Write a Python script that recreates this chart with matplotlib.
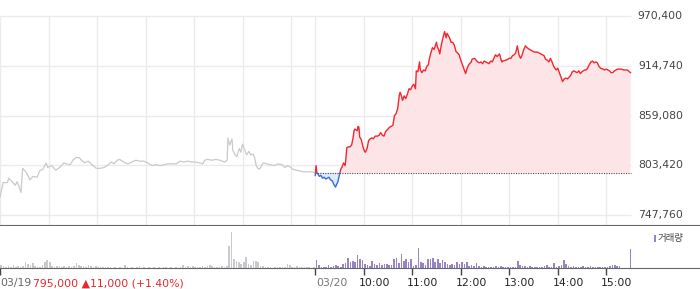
import numpy as np
import matplotlib
matplotlib.use("Agg")
import matplotlib.pyplot as plt
from matplotlib.patches import Rectangle

# session = 09:00-15:30 (390 min), two days side by side
DAY = 390
prev_close = 795000
y_ticks = [747760, 803420, 859080, 914740, 970400]
hour_labels = ["10:00", "11:00", "12:00", "13:00", "14:00", "15:00"]

# 03/19 price (minute from open, price)
t1 = [0, 4, 9, 11, 15, 19, 21, 23, 26, 28, 32, 35, 37, 41, 46, 49, 53, 57, 59, 64,
      69, 74, 79, 82, 87, 90, 94, 98, 101, 105, 109, 114, 119, 124, 129, 134, 138, 141, 145, 148,
      153, 158, 163, 168, 173, 178, 183, 188, 193, 198, 203, 208, 213, 218, 223, 227, 232, 237, 242, 247,
      251, 253, 257, 262, 267, 272, 278, 281, 282, 284, 287, 288, 291, 293, 296, 298, 300, 303, 305, 308,
      310, 313, 315, 317, 319, 321, 324, 326, 330, 334, 339, 344, 349, 352, 356, 360, 362, 366, 371, 376,
      381, 386, 389]
p1 = [768000, 784000, 784000, 789000, 785000, 781000, 785000, 781000, 773000, 800000, 796000, 791000, 787000, 791000, 790000, 797000, 799000, 806000, 801000, 803000,
      798000, 801000, 806000, 805000, 804000, 809000, 812000, 812000, 809000, 806000, 808000, 804000, 800000, 800000, 801000, 804000, 807000, 805000, 809000, 810000,
      807000, 805000, 807000, 809000, 808000, 808000, 806000, 803000, 804000, 803000, 804000, 805000, 805000, 805000, 808000, 807000, 808000, 807000, 807000, 806000,
      805000, 809000, 810000, 809000, 810000, 809000, 807000, 809000, 834000, 826000, 833000, 820000, 815000, 813000, 822000, 818000, 827000, 820000, 815000, 819000,
      815000, 816000, 812000, 803000, 800000, 799000, 804000, 806000, 805000, 804000, 803000, 805000, 804000, 801000, 803000, 801000, 799000, 798000, 797000, 796000,
      796000, 796000, 795000]

# 03/20 price (minute from open, price)
t2 = [0, 1, 2, 3, 5, 7, 9, 11, 13, 15, 17, 19, 21, 23, 25, 26, 28, 29, 31, 32,
      33, 35, 37, 38, 39, 41, 43, 44, 45, 47, 48, 49, 52, 53, 54, 55, 57, 59, 61, 62,
      64, 66, 68, 70, 72, 74, 77, 79, 81, 83, 85, 87, 89, 92, 94, 96, 98, 100, 102, 104,
      105, 107, 108, 110, 112, 114, 116, 118, 120, 122, 124, 125, 127, 129, 130, 132, 134, 136, 138, 140,
      141, 143, 145, 147, 150, 151, 153, 154, 156, 158, 160, 162, 163, 165, 167, 168, 170, 172, 174, 176,
      178, 180, 182, 184, 186, 188, 190, 193, 194, 197, 199, 201, 203, 205, 207, 209, 211, 213, 215, 217,
      219, 221, 223, 225, 228, 230, 231, 232, 236, 238, 240, 242, 244, 246, 248, 250, 252, 254, 256, 258,
      260, 262, 265, 267, 271, 275, 277, 279, 281, 283, 285, 287, 289, 291, 293, 295, 298, 300, 302, 304,
      306, 308, 310, 312, 314, 316, 318, 320, 322, 324, 326, 328, 330, 333, 335, 337, 339, 341, 343, 345,
      347, 349, 351, 353, 356, 358, 360, 362, 364, 366, 368, 370, 372, 374, 378, 382, 386, 390]
p2 = [792000, 803000, 795000, 794000, 791000, 792000, 789000, 790000, 788000, 789000, 790000, 787000, 786000, 782000, 779000, 781000, 785000, 789000, 797000, 800000,
      801000, 806000, 803000, 812000, 823000, 824000, 824000, 825000, 826000, 835000, 842000, 844000, 842000, 847000, 846000, 835000, 832000, 824000, 819000, 818000,
      822000, 831000, 833000, 834000, 833000, 836000, 836000, 837000, 840000, 837000, 836000, 841000, 843000, 846000, 847000, 848000, 859000, 861000, 867000, 882000,
      885000, 880000, 876000, 881000, 878000, 883000, 889000, 888000, 892000, 894000, 889000, 909000, 908000, 919000, 910000, 907000, 910000, 909000, 914000, 916000,
      922000, 929000, 935000, 933000, 941000, 936000, 932000, 928000, 938000, 946000, 953000, 946000, 951000, 948000, 944000, 941000, 941000, 938000, 931000, 929000,
      927000, 921000, 916000, 911000, 906000, 912000, 916000, 919000, 922000, 923000, 921000, 919000, 918000, 919000, 917000, 920000, 919000, 918000, 917000, 920000,
      919000, 923000, 927000, 925000, 928000, 921000, 919000, 920000, 921000, 922000, 923000, 923000, 926000, 927000, 929000, 937000, 927000, 923000, 927000, 933000,
      937000, 935000, 933000, 932000, 930000, 930000, 929000, 928000, 927000, 926000, 922000, 921000, 919000, 923000, 919000, 914000, 910000, 912000, 907000, 902000,
      897000, 900000, 901000, 900000, 902000, 904000, 908000, 909000, 908000, 907000, 909000, 906000, 908000, 910000, 910000, 912000, 916000, 919000, 920000, 918000,
      919000, 918000, 914000, 912000, 911000, 910000, 911000, 910000, 909000, 907000, 907000, 909000, 910000, 911000, 911000, 910000, 910000, 907000]

# volume, 3-minute buckets (relative units)
vol1 = [3, 2, 1, 2, 1, 3, 1, 2, 1, 2, 6, 4, 3, 5, 2, 1, 1, 3, 6, 8,
        6, 2, 1, 2, 2, 1, 2, 1, 2, 1, 2, 5, 3, 2, 2, 1, 3, 2, 1, 2,
        1, 1, 1, 1, 1, 1, 0, 1, 0, 1, 0, 3, 1, 0, 1, 0, 1, 2, 0, 1,
        0, 1, 0, 1, 0, 1, 0, 1, 1, 0, 1, 0, 1, 0, 1, 3, 1, 2, 1, 2,
        1, 1, 1, 2, 1, 2, 3, 2, 1, 1, 1, 2, 1, 2, 22, 36, 9, 7, 6, 4,
        6, 11, 4, 3, 7, 7, 6, 2, 2, 1, 1, 1, 0, 1, 1, 1, 1, 1, 4, 3,
        1, 1, 2, 1, 1, 1, 1, 1, 0, 1]
vol2 = [8, 3, 1, 1, 1, 3, 1, 2, 3, 2, 1, 4, 5, 10, 6, 7, 6, 13, 9, 8,
        4, 3, 2, 7, 4, 3, 5, 3, 4, 4, 3, 3, 9, 10, 5, 14, 7, 9, 6, 9,
        2, 3, 20, 6, 5, 3, 9, 9, 10, 6, 9, 5, 8, 6, 4, 3, 4, 3, 6, 4,
        6, 4, 6, 2, 3, 2, 5, 2, 1, 2, 1, 1, 1, 1, 2, 1, 2, 1, 1, 1,
        1, 1, 1, 7, 3, 2, 2, 1, 2, 1, 1, 1, 1, 1, 2, 3, 1, 1, 5, 1,
        2, 3, 8, 4, 2, 1, 2, 1, 1, 1, 2, 1, 1, 2, 1, 1, 1, 1, 1, 1,
        1, 2, 3, 3, 2, 2, 0, 0, 0]
close_vol = 19

GRID = "#ebebeb"
RED = "#f4262e"
BLUE = "#2f6fd6"

W, H = 700, 289
fig = plt.figure(figsize=(7, 2.89), dpi=100)

def fy(px):
    return (H - px) / H

px_per_min = 48.5 / 60
xmax = W / px_per_min
ax = fig.add_axes([0, fy(225), 1, (225 - 16) / H])
axv = fig.add_axes([0, fy(268), 1, (268 - 226) / H])

per_px = (970400 - 747760) / (215 - 16)
ax.set_ylim(747760 - 10 * per_px, 970400)
ax.set_xlim(0, xmax)
axv.set_xlim(0, xmax)
axv.set_ylim(0, 42)

for a in (ax, axv):
    for s in a.spines.values():
        s.set_visible(False)
    a.set_yticks([])
ax.set_xticks([])
ax.spines["bottom"].set_visible(True)
ax.spines["bottom"].set_color("#666666")
axv.spines["bottom"].set_visible(True)
axv.spines["bottom"].set_color("#666666")

# grid
last = 2 * DAY
ax.hlines(y_ticks, 0, last, color=GRID, lw=1, zorder=0, clip_on=False)
vx = [0] + [60 * i for i in range(1, 7)] + [DAY] + [DAY + 60 * i for i in range(1, 7)]
ax.vlines(vx, ax.get_ylim()[0], 970400, color=GRID, lw=1, zorder=0)

# day 1
ax.plot(t1, p1, color="#c9cacd", lw=0.9, zorder=2)

# day 2
t2x = np.array(t2) + DAY
p2a = np.array(p2)
ax.fill_between(t2x, p2a, prev_close, where=p2a >= prev_close, interpolate=True,
                color="#fde5e7", lw=0, zorder=1)
ax.fill_between(t2x, p2a, prev_close, where=p2a <= prev_close, interpolate=True,
                color="#e1eaf8", lw=0, zorder=1)
up = Rectangle((DAY - 5, prev_close), DAY + 20, 400000, transform=ax.transData)
dn = Rectangle((DAY - 5, prev_close - 400000), DAY + 20, 400000, transform=ax.transData)
l_up, = ax.plot(t2x, p2a, color=RED, lw=1.0, zorder=3)
l_up.set_clip_path(up)
l_dn, = ax.plot(t2x, p2a, color=BLUE, lw=1.0, zorder=3)
l_dn.set_clip_path(dn)
ax.hlines(prev_close, DAY, last, color="#444444", lw=0.8, linestyles=(0, (1, 1.2)), zorder=2)

for v in y_ticks:
    ax.text(683 / W, v, f"{v:,}", transform=ax.get_yaxis_transform(), ha="right", va="center",
            fontsize=7.8, color="#444444", clip_on=False)

# volume
vt1 = np.arange(0, DAY, 3)[:len(vol1)] + 1.5
vt2 = np.arange(0, DAY, 3)[:len(vol2)] + 1.5 + DAY
axv.bar(vt1, vol1, width=2.0, color="#c8c9cc", lw=0)
axv.bar(vt2, vol2, width=2.0, color="#9783c6", lw=0)
axv.bar([last], [close_vol], width=1.4, color="#9783c6", lw=0)

axv.set_xticks([0, DAY] + [DAY + 60 * i for i in range(1, 7)])
axv.set_xticklabels([])
axv.tick_params(axis="x", direction="out", length=5, width=1, color="#444444")

# legend
fig.patches.append(Rectangle((653.5 / W, fy(242)), 2 / W, 7.5 / H, transform=fig.transFigure,
                             color="#9783c6", lw=0))
fig.text(658 / W, fy(238), "거래량", fontsize=6.8, color="#444444", va="center", ha="left",
         family=["Noto Sans CJK KR", "DejaVu Sans"])

# bottom labels
ly = fy(283)
fig.text(0, ly, "03/19", fontsize=7.8, color="#666666", va="center", ha="left")
fig.text(33 / W, ly, "795,000 \u25b211,000 (+1.40%)", fontsize=7.8, color="#e8262e", va="center", ha="left")
fig.text(316 / W, ly, "03/20", fontsize=7.8, color="#777777", va="center", ha="left")
for i, lab in enumerate(hour_labels):
    xp = (DAY + 60 * (i + 1)) * px_per_min - 5
    fig.text(xp / W, ly, lab, fontsize=7.8, color="#222222", va="center", ha="left")

fig.savefig("out.png", dpi=100)
